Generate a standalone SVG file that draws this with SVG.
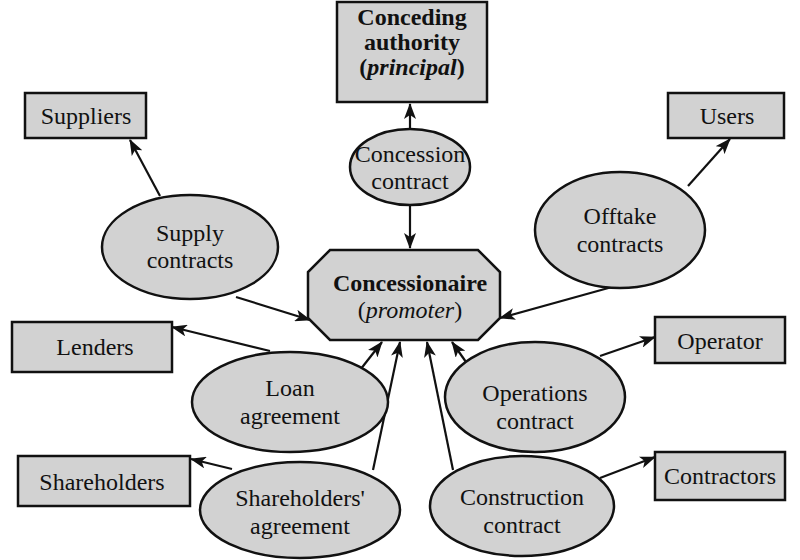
<svg xmlns="http://www.w3.org/2000/svg" width="800" height="560" viewBox="0 0 800 560">
<style>
.n{fill:#d2d2d2;stroke:#111;stroke-width:2.5}
.t{font-family:"Liberation Serif","DejaVu Serif",serif;font-size:24px;fill:#111;text-anchor:middle}
.b{font-weight:bold}
.c{stroke:#111;stroke-width:2.2;fill:none;marker-end:url(#ah)}
</style>
<defs>
<marker id="ah" markerWidth="16" markerHeight="12" refX="15" refY="6" orient="auto" markerUnits="userSpaceOnUse">
<path d="M0,0 L16,6 L0,12 L4,6 Z" fill="#111"/>
</marker>
</defs>
<rect width="800" height="560" fill="#fff"/>
<g id="connectors">
<line class="c" x1="410" y1="129" x2="410" y2="104"/>
<line class="c" x1="410" y1="205" x2="410" y2="248"/>
<line class="c" x1="160" y1="196" x2="130" y2="140"/>
<line class="c" x1="236" y1="297" x2="310" y2="320"/>
<line class="c" x1="688" y1="186" x2="730" y2="139"/>
<line class="c" x1="612" y1="287" x2="500" y2="318"/>
<line class="c" x1="270" y1="351" x2="172" y2="327"/>
<line class="c" x1="360" y1="370" x2="382" y2="342"/>
<line class="c" x1="373" y1="470" x2="400" y2="342"/>
<line class="c" x1="232" y1="469" x2="191" y2="459"/>
<line class="c" x1="453" y1="470" x2="427" y2="342"/>
<line class="c" x1="466" y1="362" x2="452" y2="342"/>
<line class="c" x1="600" y1="356" x2="655" y2="337"/>
<line class="c" x1="600" y1="478" x2="655" y2="457"/>
</g>
<g id="conceding-authority">
<rect class="n" x="337" y="2" width="150" height="100"/>
<text class="t b" x="412" y="25" font-size="22">Conceding</text>
<text class="t b" x="412" y="50" font-size="22">authority</text>
<text class="t b" x="412" y="75" font-size="22">(<tspan font-style="italic">principal</tspan>)</text>
</g>
<g id="suppliers">
<rect class="n" x="25" y="93" width="121" height="45"/>
<text class="t" x="86" y="124">Suppliers</text>
</g>
<g id="users">
<rect class="n" x="668" y="93" width="116" height="45"/>
<text class="t" x="727" y="124">Users</text>
</g>
<g id="concession-contract">
<ellipse class="n" cx="410" cy="167" rx="60" ry="38"/>
<text class="t" x="410" y="162">Concession</text>
<text class="t" x="410" y="189">contract</text>
</g>
<g id="supply-contracts">
<ellipse class="n" cx="190" cy="247" rx="88" ry="52"/>
<text class="t" x="190" y="241">Supply</text>
<text class="t" x="190" y="268">contracts</text>
</g>
<g id="offtake-contracts">
<ellipse class="n" cx="620" cy="230" rx="85" ry="58"/>
<text class="t" x="620" y="224">Offtake</text>
<text class="t" x="620" y="252">contracts</text>
</g>
<g id="concessionaire">
<polygon class="n" points="330,250 478,250 500,272 500,318 478,340 330,340 308,318 308,272"/>
<text class="t b" x="410" y="291">Concessionaire</text>
<text class="t" x="410" y="318">(<tspan font-style="italic">promoter</tspan>)</text>
</g>
<g id="lenders">
<rect class="n" x="12" y="322" width="160" height="50"/>
<text class="t" x="95" y="355">Lenders</text>
</g>
<g id="operator">
<rect class="n" x="655" y="317" width="130" height="46"/>
<text class="t" x="720" y="349">Operator</text>
</g>
<g id="loan-agreement">
<ellipse class="n" cx="290" cy="402" rx="98" ry="50"/>
<text class="t" x="290" y="396">Loan</text>
<text class="t" x="290" y="424">agreement</text>
</g>
<g id="operations-contract">
<ellipse class="n" cx="535" cy="397" rx="90" ry="55"/>
<text class="t" x="535" y="401">Operations</text>
<text class="t" x="535" y="429">contract</text>
</g>
<g id="shareholders">
<rect class="n" x="18" y="456" width="172" height="50"/>
<text class="t" x="102" y="490">Shareholders</text>
</g>
<g id="contractors">
<rect class="n" x="655" y="452" width="130" height="48"/>
<text class="t" x="720" y="484">Contractors</text>
</g>
<g id="shareholders-agreement">
<ellipse class="n" cx="300" cy="510" rx="100" ry="48"/>
<text class="t" x="300" y="506">Shareholders'</text>
<text class="t" x="300" y="534">agreement</text>
</g>
<g id="construction-contract">
<ellipse class="n" cx="522" cy="506" rx="92" ry="50"/>
<text class="t" x="522" y="505">Construction</text>
<text class="t" x="522" y="533">contract</text>
</g>
</svg>
